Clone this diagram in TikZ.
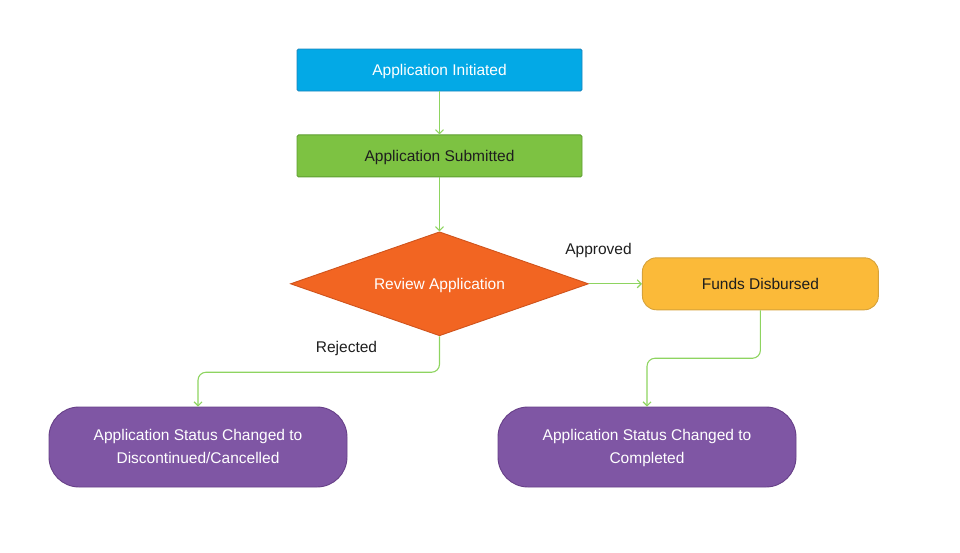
\documentclass[tikz,border=0pt]{standalone}
\usepackage{fontspec}
\setmainfont{Liberation Sans}
\usepackage{tikz}
\usepackage{xcolor}
\usetikzlibrary{arrows.meta,positioning,shapes.geometric}
\definecolor{appblue}{HTML}{03A9E6}
\definecolor{appblueedge}{HTML}{1A84BC}
\definecolor{appgreen}{HTML}{7DC242}
\definecolor{appgreenedge}{HTML}{5E9E30}
\definecolor{apporange}{HTML}{F26522}
\definecolor{apporangeedge}{HTML}{CF531C}
\definecolor{appyellow}{HTML}{FBBA39}
\definecolor{appyellowedge}{HTML}{D6A23A}
\definecolor{apppurple}{HTML}{7F56A4}
\definecolor{apppurpleedge}{HTML}{674088}
\definecolor{applink}{HTML}{8ED460}
\definecolor{apptext}{HTML}{1E1E1E}
\tikzset{
  stagebox/.style={draw=#1edge, fill=#1, line width=0.9pt, rounded corners=1.5pt, align=center, inner sep=0pt, text height=11.3pt, text depth=0pt, minimum width=285pt, minimum height=42pt, font=\fontsize{15.5}{23}\selectfont},
  decision/.style={diamond, draw=apporangeedge, fill=apporange, line width=0.9pt, aspect=2.87, inner sep=0pt, text height=11.3pt, text depth=0pt, minimum width=298pt, minimum height=104pt, text=white, font=\fontsize{15.5}{23}\selectfont},
  payout/.style={draw=appyellowedge, fill=appyellow, line width=0.9pt, rounded corners=14pt, align=center, inner sep=0pt, text height=11.3pt, text depth=0pt, minimum width=236pt, minimum height=52pt, text=apptext, font=\fontsize{15.5}{23}\selectfont},
  statusbox/.style={draw=apppurpleedge, fill=apppurple, line width=0.9pt, rounded corners=30pt, align=center, inner sep=0pt, minimum width=298pt, minimum height=80pt, text=white, font=\fontsize{15.5}{23}\selectfont},
  flow/.style={-{Straight Barb[length=4pt,width=8pt]}, line width=1.1pt, draw=applink},
  lbl/.style={text=apptext, font=\fontsize{15.5}{23}\selectfont}
}
\begin{document}
\begin{tikzpicture}[x=1pt, y=1pt]
  \useasboundingbox (0,0) rectangle (960,-552);
  \node[stagebox=appblue, text=white] (init) at (439.5,-70) {Application Initiated};
  \node[stagebox=appgreen, text=apptext, below=43pt of init] (submit) {Application Submitted};
  \node[decision, below=54pt of submit] (review) {Review Application};
  \node[payout, right=53pt of review] (funds) {Funds Disbursed};
  \node[statusbox] (cancelled) at (198,-447) {\strut Application Status Changed to\\Discontinued/Cancelled\strut};
  \node[statusbox] (completed) at (647,-447) {\strut Application Status Changed to\\Completed\strut};
  \node[lbl] (approved) at (598.5,-250) {Approved};
  \node[lbl] (rejected) at (346.5,-348) {Rejected};
  \draw[flow] (init) -- (submit);
  \draw[flow] (submit) -- (review);
  \draw[flow] (review) -- (funds);
  \draw[flow, rounded corners=8pt] (review.south) -- ++(0,-36) -| (cancelled.north);
  \draw[flow, rounded corners=8pt] (funds.south) -- ++(0,-48) -| (completed.north);
\end{tikzpicture}
\end{document}
